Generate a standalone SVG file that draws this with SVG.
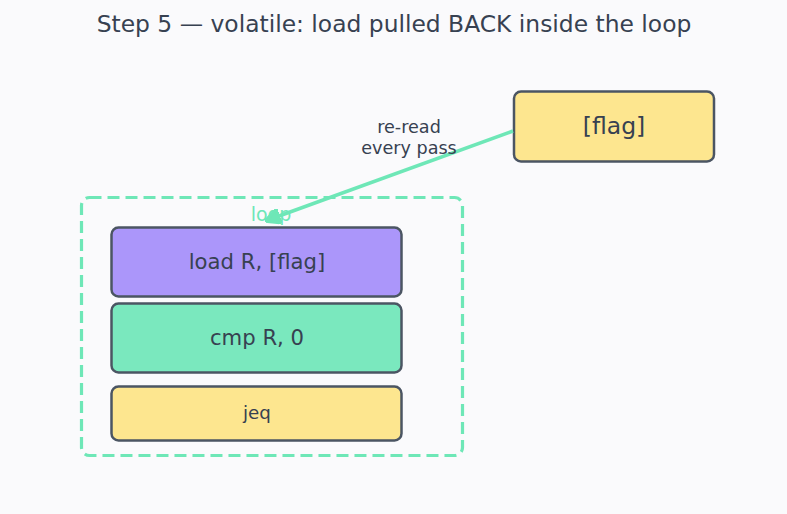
<svg xmlns="http://www.w3.org/2000/svg" width="787" height="514" viewBox="0 0 787 514">
<defs>
<style>
.t{font-family:"DejaVu Sans",sans-serif;fill:#374151;text-anchor:middle}
.box{stroke:#4b5563;stroke-width:2.5}
</style>
<marker id="ah" viewBox="0 0 10 10" refX="8" refY="5" markerWidth="4.5" markerHeight="4.5" orient="auto" markerUnits="strokeWidth">
<path d="M0,0 L10,5 L0,10 Z" fill="#6ee7b7" stroke="#6ee7b7" stroke-width="2" stroke-linejoin="round"/>
</marker>
</defs>
<rect width="787" height="514" fill="#fafafc"/>
<text class="t" x="394" y="32" font-size="23.4">Step 5 — volatile: load pulled BACK inside the loop</text>
<g id="loop">
<rect x="81.5" y="197.5" width="381" height="258" rx="8" fill="none" stroke="#6ee7b7" stroke-width="3.2" stroke-dasharray="12 6"/>
<text x="271" y="221" font-family="DejaVu Sans,sans-serif" font-size="19" fill="#6ee7b7" text-anchor="middle">loop</text>
</g>
<g id="load">
<rect class="box" x="111.5" y="227.5" width="290" height="69" rx="7" fill="#ab96fa"/>
<text class="t" x="257" y="269" font-size="21.2">load R, [flag]</text>
</g>
<g id="cmp">
<rect class="box" x="111.5" y="303.5" width="290" height="69" rx="7" fill="#7ae8be"/>
<text class="t" x="257" y="345" font-size="21.2">cmp R, 0</text>
</g>
<g id="jeq">
<rect class="box" x="111.5" y="386.5" width="290" height="54" rx="7" fill="#fde68f"/>
<text class="t" x="257" y="419" font-size="18.3">jeq</text>
</g>
<g id="flag">
<rect class="box" x="514" y="91.5" width="200" height="70" rx="7" fill="#fde68f"/>
<text class="t" x="614" y="134" font-size="23.5">[flag]</text>
</g>
<g id="connectors">
<line x1="513" y1="131" x2="268" y2="220" stroke="#6ee7b7" stroke-width="3.5" marker-end="url(#ah)"/>
<text class="t" x="409" y="133" font-size="17.6">re-read</text>
<text class="t" x="409" y="154" font-size="17.6">every pass</text>
</g>
</svg>
